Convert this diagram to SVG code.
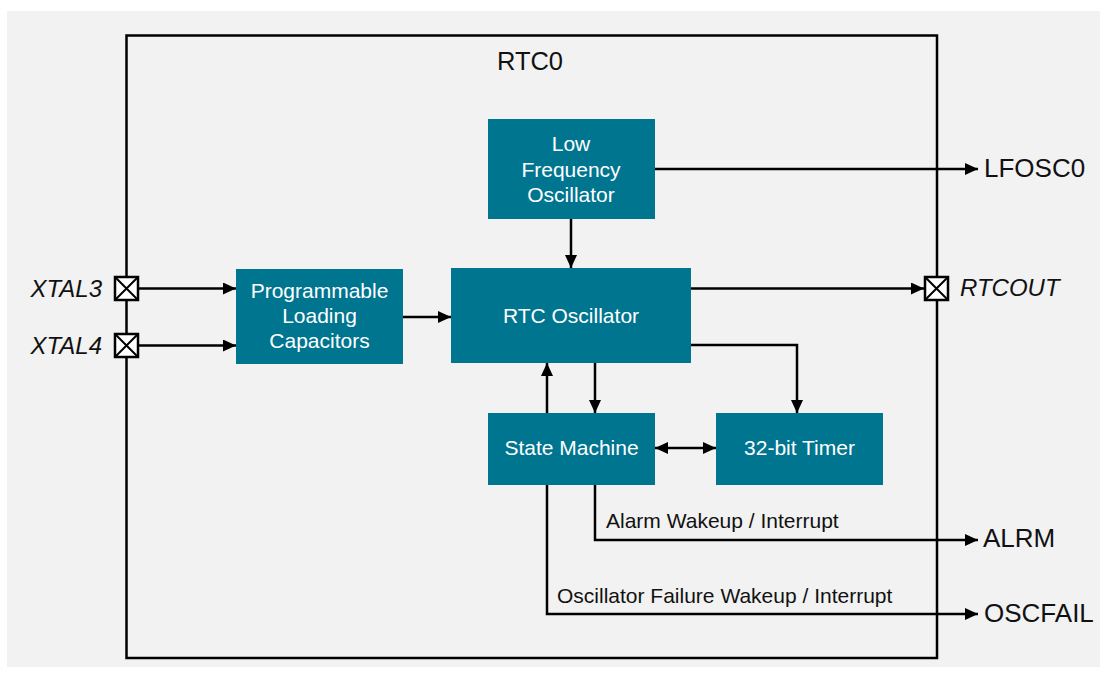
<svg xmlns="http://www.w3.org/2000/svg" width="1107" height="674" viewBox="0 0 1107 674">
<style>
.box{fill:#00758f}
.bt{font-family:"Liberation Sans",Arial,sans-serif;font-size:21px;fill:#ffffff;text-anchor:middle}
.lbl{font-family:"Liberation Sans",Arial,sans-serif;font-size:26px;fill:#111}
.it{font-style:italic;font-size:24px}
.sm{font-family:"Liberation Sans",Arial,sans-serif;font-size:21px;fill:#111}
.ln{fill:none;stroke:#000;stroke-width:2.5}
.pin{fill:#fff;stroke:#000;stroke-width:2.5}
</style>
<defs>
<marker id="ah" markerUnits="userSpaceOnUse" markerWidth="14" markerHeight="12" refX="13" refY="6" orient="auto">
<path d="M0,0 L13,6 L0,12 Z" fill="#000"/>
</marker>
<marker id="as" markerUnits="userSpaceOnUse" markerWidth="14" markerHeight="12" refX="0" refY="6" orient="auto">
<path d="M13,0 L0,6 L13,12 Z" fill="#000"/>
</marker>
</defs>
<rect x="7" y="11" width="1093" height="656" fill="#f2f2f2"/>
<g id="rtc0">
<rect x="126.5" y="35.5" width="810.5" height="622.5" fill="none" stroke="#000" stroke-width="2.5"/>
<text class="lbl" x="530" y="70" text-anchor="middle" style="font-size:25.5px">RTC0</text>
</g>
<g id="connectors">
<path class="ln" d="M139,288.5 H236" marker-end="url(#ah)"/>
<path class="ln" d="M139,345.5 H236" marker-end="url(#ah)"/>
<path class="ln" d="M403,317 H451" marker-end="url(#ah)"/>
<path class="ln" d="M655,169 H978" marker-end="url(#ah)"/>
<path class="ln" d="M571,219 V268" marker-end="url(#ah)"/>
<path class="ln" d="M691,288.5 H924" marker-end="url(#ah)"/>
<path class="ln" d="M691,345 H797 V413" marker-end="url(#ah)"/>
<path class="ln" d="M595,363 V413" marker-end="url(#ah)"/>
<path class="ln" d="M547,413 V363" marker-end="url(#ah)"/>
<path class="ln" d="M655,448 H716" marker-start="url(#as)" marker-end="url(#ah)"/>
<path class="ln" d="M595,485 V540 H978" marker-end="url(#ah)"/>
<path class="ln" d="M547,485 V614 H978" marker-end="url(#ah)"/>
<text class="sm" x="606" y="528">Alarm Wakeup / Interrupt</text>
<text class="sm" x="557" y="603">Oscillator Failure Wakeup / Interrupt</text>
</g>
<g id="lfo">
<rect class="box" x="488" y="119" width="167" height="100"/>
<text class="bt" x="571" y="151">Low</text>
<text class="bt" x="571" y="176.5">Frequency</text>
<text class="bt" x="571" y="202">Oscillator</text>
</g>
<g id="rtcosc">
<rect class="box" x="451" y="268" width="240" height="95"/>
<text class="bt" x="571" y="323">RTC Oscillator</text>
</g>
<g id="plc">
<rect class="box" x="236" y="269" width="167" height="95"/>
<text class="bt" x="319.5" y="298">Programmable</text>
<text class="bt" x="319.5" y="323">Loading</text>
<text class="bt" x="319.5" y="348">Capacitors</text>
</g>
<g id="sm">
<rect class="box" x="488" y="413" width="167" height="72"/>
<text class="bt" x="571.5" y="455">State Machine</text>
</g>
<g id="timer">
<rect class="box" x="716" y="413" width="167" height="72"/>
<text class="bt" x="799.5" y="455">32-bit Timer</text>
</g>
<g id="xtal3">
<rect class="pin" x="115" y="277" width="23" height="23"/>
<path d="M115,277 L138,300 M138,277 L115,300" stroke="#000" stroke-width="2"/>
<text class="lbl it" x="102" y="297" text-anchor="end">XTAL3</text>
</g>
<g id="xtal4">
<rect class="pin" x="115" y="334" width="23" height="23"/>
<path d="M115,334 L138,357 M138,334 L115,357" stroke="#000" stroke-width="2"/>
<text class="lbl it" x="102" y="354" text-anchor="end">XTAL4</text>
</g>
<g id="rtcout">
<rect class="pin" x="925" y="277" width="23" height="23"/>
<path d="M925,277 L948,300 M948,277 L925,300" stroke="#000" stroke-width="2"/>
<text class="lbl it" x="960" y="296">RTCOUT</text>
</g>
<g id="lfosc0"><text class="lbl" x="984" y="177">LFOSC0</text></g>
<g id="alrm"><text class="lbl" x="983" y="547">ALRM</text></g>
<g id="oscfail"><text class="lbl" x="984" y="622">OSCFAIL</text></g>
</svg>
